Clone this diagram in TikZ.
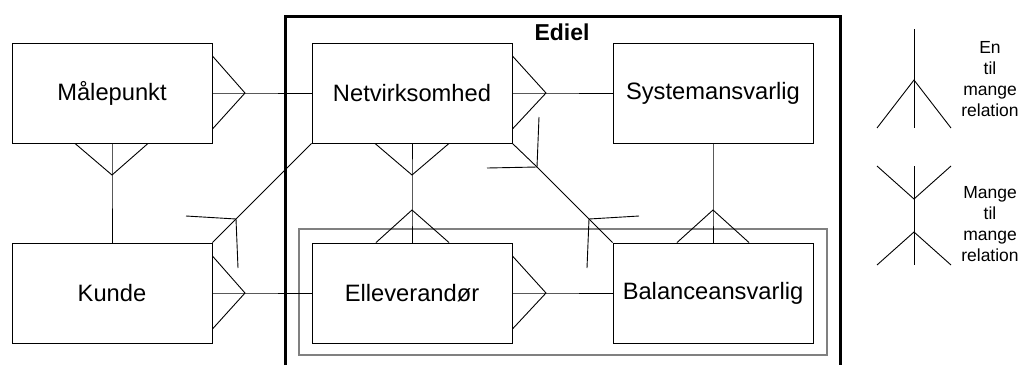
\documentclass[tikz,border=0pt]{standalone}
\usepackage{fontspec}
\setmainfont{Liberation Sans}
\usetikzlibrary{calc}

\begin{document}
\begin{tikzpicture}[x=1pt,y=-1pt,line width=0.9pt,
	entity/.style={draw,rectangle,minimum width=200pt,minimum height=100pt,inner sep=0pt,font=\fontsize{23.7}{28}\selectfont},
	legendtext/.style={align=center,inner sep=0pt,font=\fontsize{17.5}{21}\selectfont}]
	\useasboundingbox (0,0) rectangle (1021,365);
	\draw[line width=3pt] (285,365)--(285,16)--(840,16)--(840,365);
	\draw[gray,line width=1.3pt] (299,229) rectangle (827,355);
	\node (ediel) at (562,32)[font=\bfseries\fontsize{23}{27}\selectfont] {Ediel};
	\node (maal) at (112,93)[entity] {Målepunkt};
	\node (kunde) at (112,293)[entity] {Kunde};
	\node (net) at (412,93)[entity] {Netvirksomhed};
	\node (sys) at (713,93)[entity] {Systemansvarlig};
	\node (elev) at (412,293)[entity] {Elleverandør};
	\node (bal) at (713,293)[entity] {Balanceansvarlig};
	\coordinate (mn) at (245,93);
	\coordinate (mk) at (112,175);
	\coordinate (ke) at (245,293);
	\coordinate (kn) at (236,219);
	\coordinate (ne) at (412,175);
	\coordinate (en) at (412,210);
	\coordinate (ns) at (546,93);
	\coordinate (nb1) at (537,167);
	\coordinate (nb2) at (589,219);
	\coordinate (bs) at (713,210);
	\coordinate (eb) at (546,293);
	\draw (maal.east)--(mn)--(net.west);
	\draw ($(maal.east)+(0,-37)$)--(mn)--($(maal.east)+(0,36)$);
	\draw (maal.south)--(mk)--(kunde.north);
	\draw ($(maal.south)+(-37,0)$)--(mk)--($(maal.south)+(36,0)$);
	\draw (kunde.east)--(ke)--(elev.west);
	\draw ($(kunde.east)+(0,-37)$)--(ke)--($(kunde.east)+(0,36)$);
	\draw (kunde.north east)--(kn)--(net.south west);
	\draw ($(kn)+(-50,-3)$)--(kn)--($(kn)+(2,49)$);
	\draw (net.south)--(ne)--(en)--(elev.north);
	\draw ($(net.south)+(-37,0)$)--(ne)--($(net.south)+(37,0)$);
	\draw ($(elev.north)+(-36,0)$)--(en)--($(elev.north)+(37,0)$);
	\draw (net.east)--(ns)--(sys.west);
	\draw ($(net.east)+(0,-37)$)--(ns)--($(net.east)+(0,36)$);
	\draw (net.south east)--(nb1)--(nb2)--(bal.north west);
	\draw ($(nb1)+(2,-50)$)--(nb1)--($(nb1)+(-50,1)$);
	\draw ($(nb2)+(50,-3)$)--(nb2)--($(nb2)+(-2,49)$);
	\draw (sys.south)--(bs)--(bal.north);
	\draw ($(bal.north)+(-36,0)$)--(bs)--($(bal.north)+(36,0)$);
	\draw (elev.east)--(eb)--(bal.west);
	\draw ($(elev.east)+(0,-37)$)--(eb)--($(elev.east)+(0,36)$);
	\draw (914,29)--(914,128);
	\draw (877,128)--(914,80)--(951,128);
	\draw (914,166)--(914,265);
	\draw (877,166)--(914,199)--(951,166);
	\draw (877,265)--(914,232)--(951,265);
	\node (onemany) at (990,79)[legendtext] {En\\til\\mange\\relation};
	\node (manymany) at (990,224)[legendtext] {Mange\\til\\mange\\relation};
\end{tikzpicture}
\end{document}
